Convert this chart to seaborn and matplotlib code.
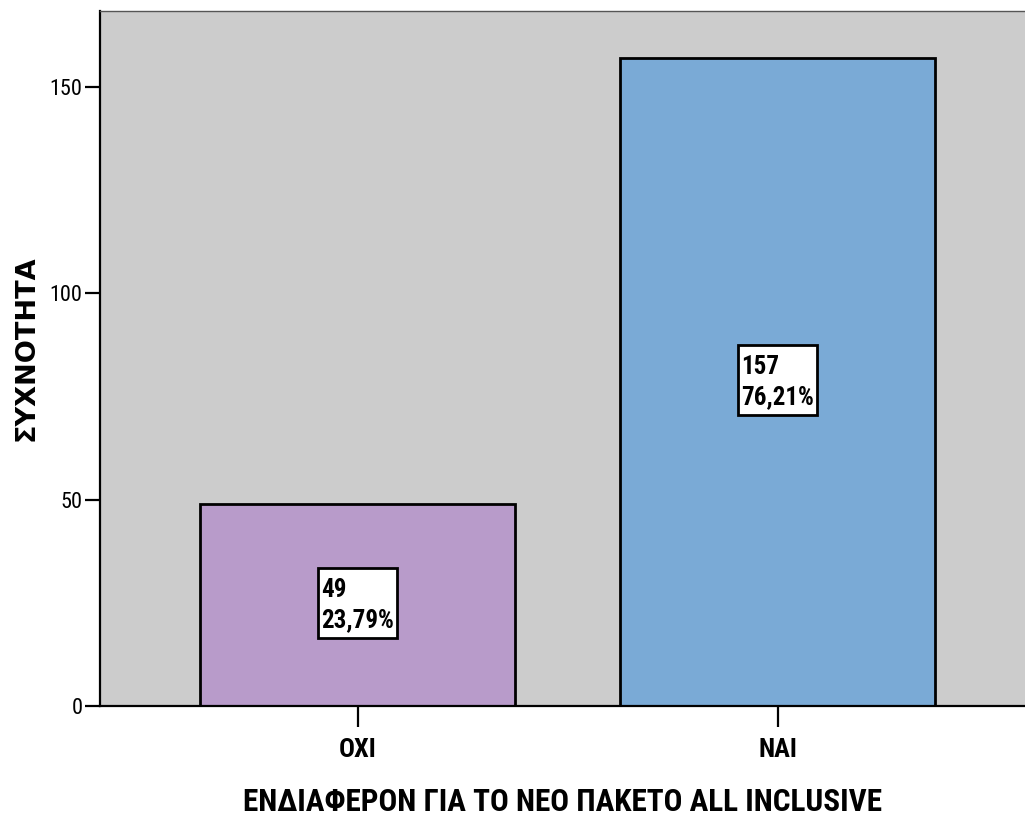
import matplotlib
matplotlib.use("Agg")
import matplotlib.pyplot as plt
from matplotlib.path import Path
import seaborn as sns
import pandas as pd

# Interest in the new all-inclusive package
categories = ["ΟΧΙ", "ΝΑΙ"]
counts = [49, 157]
percent_labels = ["23,79%", "76,21%"]
bar_colors = ["#b89bca", "#7aaad6"]

sns.set_theme(style="white")
narrow = ["Roboto Condensed", "Liberation Sans", "DejaVu Sans"]
plt.rcParams["font.family"] = narrow
plt.rcParams["text.color"] = "black"
plt.rcParams["axes.labelcolor"] = "black"


def label_box(x0, y0, width, height, mutation_size):
    """Rectangle around a value label, with more room above and below."""
    px, pt, pb = 0.12 * mutation_size, 0.42 * mutation_size, 0.26 * mutation_size
    x1, y1 = x0 - px, y0 - pb
    x2, y2 = x0 + width + px, y0 + height + pt
    return Path([(x1, y1), (x2, y1), (x2, y2), (x1, y2), (x1, y1)], closed=True)


df = pd.DataFrame({"cat": categories, "n": counts})

fig = plt.figure(figsize=(10.25, 8.19), dpi=100)
ax = fig.add_axes([100 / 1025, 113 / 819, 925 / 1025, 695 / 819])
ax.set_facecolor("#cccccc")

sns.barplot(data=df, x="cat", y="n", hue="cat", palette=bar_colors,
            order=categories, hue_order=categories, width=0.75,
            saturation=1, edgecolor="black", linewidth=2, legend=False,
            ax=ax, zorder=2)

ax.set_xlim(-0.613, 1.589)
ax.set_ylim(0, 168.4)
ax.set_yticks([0, 50, 100, 150])

for i, (n, p) in enumerate(zip(counts, percent_labels)):
    ax.text(i, n / 2, f"{n}\n{p}", ha="center", va="center",
            multialignment="left", fontsize=18, fontweight="bold",
            color="black", linespacing=1.3, zorder=5,
            bbox=dict(boxstyle=label_box, facecolor="white",
                      edgecolor="black", linewidth=2))

for side in ["left", "bottom"]:
    ax.spines[side].set_color("black")
    ax.spines[side].set_linewidth(1.6)
ax.spines["top"].set_color("#555555")
ax.spines["top"].set_linewidth(1.0)
ax.spines["right"].set_visible(False)

ax.tick_params(axis="y", direction="out", length=10.5, width=1.6,
               labelsize=16, pad=2, left=True, colors="black")
ax.tick_params(axis="x", direction="out", length=15, width=1.6,
               labelsize=19, pad=8, bottom=True, colors="black")
for lbl in ax.get_xticklabels():
    lbl.set_fontweight("bold")

ax.set_ylabel("ΣΥΧΝΟΤΗΤΑ", fontsize=19.5, fontweight="bold",
              family=["DejaVu Sans"], va="center")
ax.yaxis.set_label_coords(-73 / 925, 358 / 695)
ax.set_xlabel("ΕΝΔΙΑΦΕΡΟΝ ΓΙΑ ΤΟ ΝΕΟ ΠΑΚΕΤΟ ALL INCLUSIVE", fontsize=22.5,
              fontweight="bold", va="baseline")
ax.xaxis.set_label_coords(0.5, -105 / 695)

fig.savefig("out.png", dpi=100)
